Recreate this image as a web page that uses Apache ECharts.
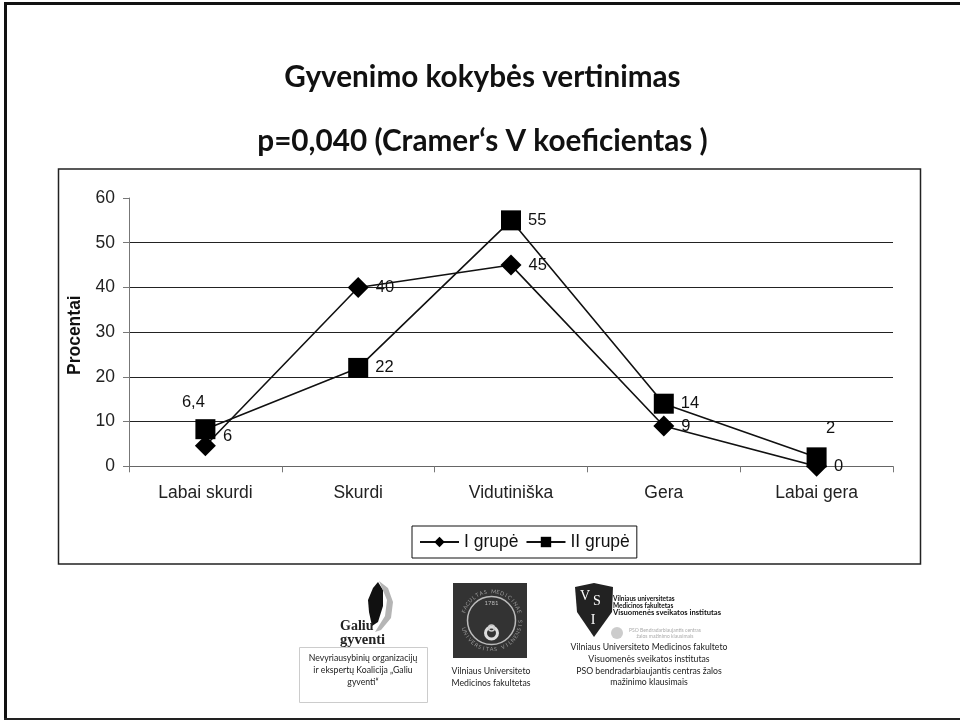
<!DOCTYPE html>
<html>
<head>
<meta charset="utf-8">
<style>
  html, body { margin: 0; padding: 0; background: #fff; }
  #chart { width: 960px; height: 721px; }
</style>
<script src="https://cdn.jsdelivr.net/npm/echarts@6/dist/echarts.min.js"></script>
</head>
<body>
<div id="chart"></div>
<script>
const categories = ['Labai skurdi', 'Skurdi', 'Vidutiniška', 'Gera', 'Labai gera']
const groupOne = [4.6, 40, 45, 9, 0]
const groupTwo = [8.3, 22, 55, 14, 2]
// printed labels do not always match where the points sit
const groupOneLabels = ['6', '40', '45', '9', '0']
const groupTwoLabels = ['6,4', '22', '55', '14', '2']

const chart = echarts.init(document.getElementById('chart'))

const text = (x, y, str, size, opts = {}) => ({
  type: 'text',
  x,
  y,
  rotation: opts.rotation || 0,
  silent: true,
  style: {
    text: str,
    fontSize: size,
    fontFamily: opts.font || 'Lato',
    fontWeight: opts.weight || 'normal',
    fill: opts.fill || '#222',
    align: opts.align || 'center',
    verticalAlign: 'middle',
  },
})
const rect = (x, y, w, h, style) => ({ type: 'rect', shape: { x, y, width: w, height: h }, style, silent: true })
const poly = (points, fill) => ({ type: 'polygon', shape: { points }, style: { fill }, silent: true })
const ring = (cx, cy, r, stroke, lineWidth) => ({
  type: 'circle',
  shape: { cx, cy, r },
  style: { fill: 'none', stroke, lineWidth },
  silent: true,
})
// seal lettering, one rotated glyph at a time
const arcText = (cx, cy, r, str, startDeg, stepDeg, flip) =>
  str.split('').map((ch, i) => {
    const deg = startDeg + i * stepDeg
    const rad = (deg * Math.PI) / 180
    return text(cx + r * Math.sin(rad), cy - r * Math.cos(rad), ch, 5.5, {
      fill: '#999',
      rotation: (-(flip ? deg + 180 : deg) * Math.PI) / 180,
    })
  })

const graphics = [
  // slide frame, open on the right
  rect(4, 2, 956, 3, { fill: '#111' }),
  rect(4, 2, 3, 718, { fill: '#111' }),
  rect(4, 718, 956, 2, { fill: '#222' }),
  // chart box
  rect(58.5, 169, 862, 395, { fill: 'none', stroke: '#222', lineWidth: 1.5 }),
  text(482.5, 77, 'Gyvenimo kokybės vertinimas', 29.7, { weight: 'bold', fill: '#111' }),
  text(482.5, 141.5, 'p=0,040 (Cramer‘s V koeficientas )', 29.7, { weight: 'bold', fill: '#111' }),

  // Galiu gyventi logo
  poly([[378, 582], [383, 590], [383, 606], [378, 622], [372, 626], [369, 612], [368, 600], [373, 588]], '#111'),
  poly([[379, 581], [388, 588], [393, 602], [391, 618], [381, 630], [375, 632], [385, 616], [387, 600]], '#b5b5b5'),
  text(340, 626, 'Galiu', 14, { font: 'Liberation Serif', weight: 'bold', align: 'left', fill: '#222' }),
  text(340, 640, 'gyventi', 14.5, { font: 'Liberation Serif', weight: 'bold', align: 'left', fill: '#222' }),
  rect(299.5, 647.5, 128, 55, { fill: '#fff', stroke: '#ccc', lineWidth: 1 }),
  text(363, 658, 'Nevyriausybinių organizacijų', 8.7),
  text(363, 670, 'ir ekspertų Koalicija „Galiu', 8.7),
  text(363, 682, 'gyventi“', 8.7),

  // faculty seal
  rect(453, 583, 74, 75, { fill: '#333' }),
  ring(491.5, 620.5, 24, '#bbb', 1.5),
  ...arcText(491.5, 620.5, 29, 'FACULTAS MEDICINAE', -72, 8.5, false),
  ...arcText(491.5, 620.5, 29, 'UNIVERSITAS VILNENSIS', 252, -8, true),
  text(491.5, 603, '1781', 6, { fill: '#bbb' }),
  ring(491.5, 633, 6, '#ddd', 3),
  ring(491.5, 628, 3, '#ccc', 1.5),
  text(491, 671, 'Vilniaus Universiteto', 8.7),
  text(491, 683, 'Medicinos fakultetas', 8.7),

  // institute shield
  poly([[575, 587], [594, 583], [613, 587], [612, 612], [594, 637], [577, 612]], '#222'),
  text(585, 596, 'V', 14, { font: 'Liberation Serif', fill: '#fff' }),
  text(597, 601, 'S', 14, { font: 'Liberation Serif', fill: '#fff' }),
  text(593, 620, 'I', 14, { font: 'Liberation Serif', fill: '#fff' }),
  text(613, 599, 'Vilniaus universitetas', 6.5, { weight: 'bold', align: 'left', fill: '#111' }),
  text(613, 606, 'Medicinos fakultetas', 6.5, { weight: 'bold', align: 'left', fill: '#111' }),
  text(613, 613, 'Visuomenės sveikatos institutas', 7.6, { weight: 'bold', align: 'left', fill: '#111' }),
  { type: 'circle', shape: { cx: 617, cy: 633, r: 6 }, style: { fill: '#ccc' }, silent: true },
  text(665, 630, 'PSO Bendradarbiaujantis centras', 5, { fill: '#aaa' }),
  text(665, 636, 'žalos mažinimo klausimais', 5, { fill: '#aaa' }),
  text(649, 647, 'Vilniaus Universiteto Medicinos fakulteto', 8.7),
  text(649, 659, 'Visuomenės sveikatos institutas', 8.7),
  text(649, 671, 'PSO bendradarbiaujantis centras žalos', 8.7),
  text(649, 682, 'mažinimo klausimais', 8.7),
]

// labels that sit away from the default right-hand spot
const labelTweaks = {
  'I grupė': { 0: { offset: [0, -9] } },
  'II grupė': {
    0: { position: 'top', distance: 8, offset: [-12, 0] },
    4: { position: 'top', distance: 10, offset: [14, 0] },
  },
}

const makeSeries = (name, values, labels, symbol, size) => ({
  name,
  type: 'line',
  symbol,
  symbolSize: size,
  itemStyle: { color: '#000' },
  lineStyle: { color: '#111', width: 1.6 },
  data: values.map((value, i) => ({
    value,
    label: Object.assign({ formatter: () => labels[i] }, labelTweaks[name][i]),
  })),
  label: {
    show: true,
    position: 'right',
    distance: 7,
    color: '#111',
    fontSize: 16.5,
    fontFamily: 'Liberation Sans',
  },
})

chart.setOption({
  animation: false,
  backgroundColor: '#fff',
  graphic: { elements: graphics },
  grid: { left: 129, right: 67, top: 198, bottom: 254.7 },
  legend: {
    left: 412,
    top: 526,
    itemWidth: 39,
    itemHeight: 13,
    itemGap: 7,
    padding: [7, 7, 7, 7],
    borderColor: '#111',
    borderWidth: 1,
    textStyle: { color: '#111', fontSize: 17.5, fontFamily: 'Liberation Sans' },
    data: ['I grupė', 'II grupė'],
  },
  xAxis: {
    type: 'category',
    data: categories,
    boundaryGap: true,
    axisLine: { lineStyle: { color: '#666', width: 1 } },
    axisTick: { show: true, alignWithLabel: false, length: 6, lineStyle: { color: '#777' } },
    axisLabel: { color: '#222', fontSize: 17.5, margin: 18, fontFamily: 'Liberation Sans' },
  },
  yAxis: {
    type: 'value',
    min: 0,
    max: 60,
    interval: 10,
    name: 'Procentai',
    nameLocation: 'middle',
    nameGap: 44,
    nameTextStyle: { color: '#111', fontSize: 17.5, fontWeight: 'bold', fontFamily: 'Liberation Sans', padding: [0, 6, 0, 0] },
    axisLine: { show: true, lineStyle: { color: '#777', width: 1 } },
    axisTick: { show: true, length: 6, lineStyle: { color: '#777' } },
    axisLabel: { color: '#222', fontSize: 17.5, margin: 14, fontFamily: 'Liberation Sans' },
    splitLine: { show: true, showMinLine: false, showMaxLine: false, lineStyle: { color: '#222', width: 1 } },
  },
  series: [
    makeSeries('I grupė', groupOne, groupOneLabels, 'diamond', 21),
    makeSeries('II grupė', groupTwo, groupTwoLabels, 'rect', 20),
  ],
})
</script>
</body>
</html>
